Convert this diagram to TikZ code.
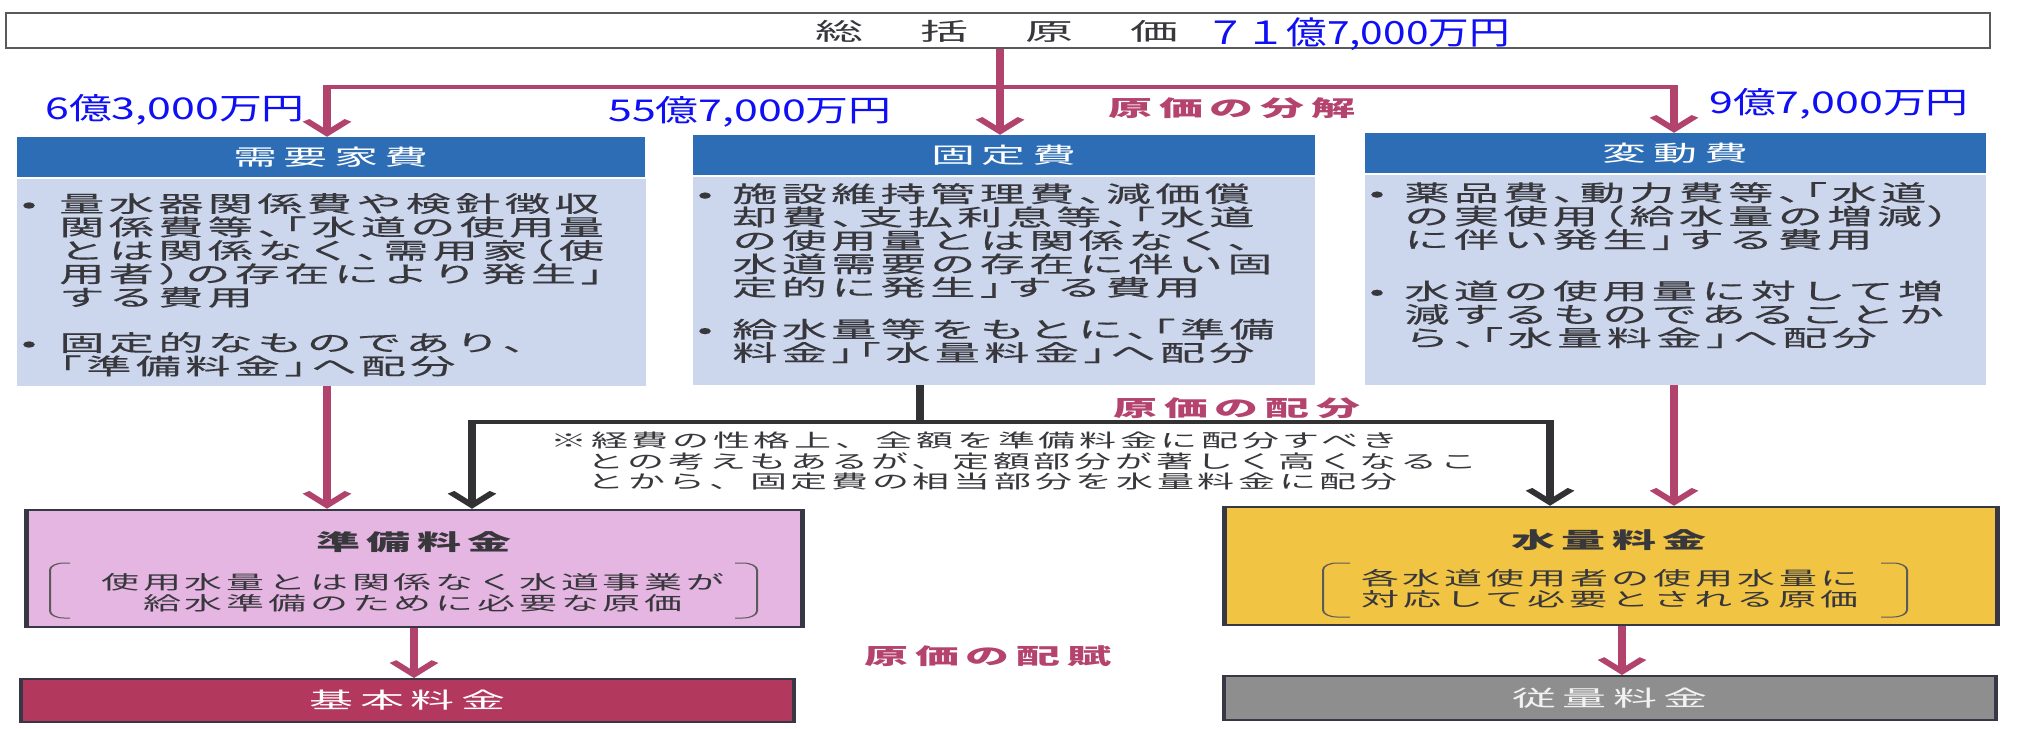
\documentclass[tikz,border=0pt]{standalone}
\usepackage{fontspec}
\usetikzlibrary{arrows.meta}
\newfontfamily\jpB[LetterSpace=10,RawFeature=+halt,FakeBold=0.35]{Noto Sans CJK JP}
\newfontfamily\jpH[LetterSpace=15,RawFeature=+halt]{Noto Sans CJK JP}
\newfontfamily\jpN[LetterSpace=10]{Noto Sans CJK JP}
\newfontfamily\bluefnt[FakeStretch=1.43]{Noto Sans CJK JP}
\newfontfamily\bluefntT[FakeStretch=1.27]{Noto Sans CJK JP}
\definecolor{hdrblue}{RGB}{45,109,181}
\definecolor{bodyblue}{RGB}{204,215,238}
\definecolor{txtdark}{RGB}{55,55,60}
\definecolor{topgray}{RGB}{90,90,90}
\definecolor{pinkline}{RGB}{177,67,108}
\definecolor{pinklbl}{RGB}{180,68,110}
\definecolor{darkline}{RGB}{50,50,52}
\definecolor{junbifill}{RGB}{229,182,226}
\definecolor{suiryofill}{RGB}{242,196,67}
\definecolor{kihonfill}{RGB}{179,56,94}
\definecolor{juryofill}{RGB}{142,142,142}
\definecolor{boxedge}{RGB}{55,55,70}
\definecolor{brkgray}{RGB}{90,90,90}
\definecolor{bluetxt}{RGB}{15,15,245}
\tikzset{
 topbox/.style={draw=topgray, line width=1.2pt, fill=white, inner sep=0},
 hdr/.style={fill=hdrblue, text=white, inner sep=0, minimum height=40pt, font=\jpH\fontsize{22}{24}\selectfont},
 body/.style={fill=bodyblue, inner sep=0},
 btxt/.style={anchor=north west, inner sep=0, align=left, text=txtdark, font=\jpB\fontsize{22.5}{23.4}\selectfont},
 lbl/.style={text=pinklbl, inner sep=0, font=\jpH\bfseries\fontsize{22}{24}\selectfont},
 notetxt/.style={anchor=north west, inner sep=0, align=left, text=txtdark, font=\jpN\fontsize{18.5}{20.3}\selectfont},
 rbox/.style={draw=boxedge, line width=2.5pt, inner sep=0},
 rtitle/.style={inner sep=0, text=txtdark, font=\jpH\bfseries\fontsize{22}{24}\selectfont},
 rtxt/.style={inner sep=0, align=center, text=txtdark, font=\jpN\fontsize{19}{20.5}\selectfont},
 brk/.style={draw=brkgray, line width=1pt, rounded corners=7pt},
 pk/.style={draw=pinkline, line width=4.3pt},
 dk/.style={draw=darkline, line width=4.3pt},
 tipend/.style={-{Straight Barb[length=13pt,width=21pt]}},
 tipboth/.style={{Straight Barb[length=13pt,width=21pt]}-{Straight Barb[length=13pt,width=21pt]}},
 bluelbl/.style={text=bluetxt, anchor=west, inner sep=0},
}
\begin{document}
\begin{tikzpicture}[x=1pt,y=-1pt]
\path[use as bounding box, fill=white] (0,0) rectangle (2028,728);
\begin{scope}[transform canvas={xscale=2}, x=0.5pt, y=-1pt]
 % top box
 \node[topbox, minimum width=992pt, minimum height=35pt] (top) at (998,30.5) {};
 \node[inner sep=0, text=txtdark, font=\jpN\fontsize{24}{26}\selectfont] (ttl) at (997,31.5) {総\hspace{28.5pt}括\hspace{28.5pt}原\hspace{28.5pt}価};
 % headers and bodies
 \node[hdr, minimum width=314pt] (hdrA) at (331,157) {需要家費};
 \node[body, minimum width=314.5pt, minimum height=207pt] (bodyA) at (331.5,282.5) {};
 \node[hdr, minimum width=311pt] (hdrB) at (1004,155) {固定費};
 \node[body, minimum width=311pt, minimum height=208pt] (bodyB) at (1004,281) {};
 \node[hdr, minimum width=310.5pt] (hdrC) at (1675.5,153) {変動費};
 \node[body, minimum width=310.5pt, minimum height=210pt] (bodyC) at (1675.5,280) {};
 \node[btxt] (txtA) at (21,193) {\makebox[19pt][l]{•}量水器関係費や検針徴収\\
  \hspace*{19pt}関係費等、「水道の使用量\\
  \hspace*{19pt}とは関係なく、需用家（使\\
  \hspace*{19pt}用者）の存在により発生」\\
  \hspace*{19pt}する費用\\[22pt]
  \makebox[19pt][l]{•}固定的なものであり、\\
  \hspace*{19pt}「準備料金」へ配分};
 \node[btxt] (txtB) at (697,183) {\makebox[17.5pt][l]{•}施設維持管理費、減価償\\
  \hspace*{17.5pt}却費、支払利息等、「水道\\
  \hspace*{17.5pt}の使用量とは関係なく、\\
  \hspace*{17.5pt}水道需要の存在に伴い固\\
  \hspace*{17.5pt}定的に発生」する費用\\[18.5pt]
  \makebox[17.5pt][l]{•}給水量等をもとに、「準備\\
  \hspace*{17.5pt}料金」「水量料金」へ配分};
 \node[btxt] (txtC) at (1369,182) {\makebox[17.5pt][l]{•}薬品費、動力費等、「水道\\
  \hspace*{17.5pt}の実使用（給水量の増減）\\
  \hspace*{17.5pt}に伴い発生」する費用\\[28pt]
  \makebox[17.5pt][l]{•}水道の使用量に対して増\\
  \hspace*{17.5pt}減するものであることか\\
  \hspace*{17.5pt}ら、「水量料金」へ配分};
 % labels
 \node[lbl] (lblA) at (1232,108) {原価の分解};
 \node[lbl] (lblB) at (1237,408) {原価の配分};
 \node[lbl] (lblC) at (988,656) {原価の配賦};
 % note
 \node[notetxt] (note) at (550,432) {※経費の性格上、全額を準備料金に配分すべき\\
  \phantom{※}との考えもあるが、定額部分が著しく高くなるこ\\
  \phantom{※}とから、固定費の相当部分を水量料金に配分};
 % rate boxes
 \node[rbox, fill=junbifill, minimum width=388pt, minimum height=117pt] (junbi) at (414,568.5) {};
 \node[rtitle] (junbiT) at (414,542) {準備料金};
 \node[rtxt] (junbiX) at (413,592.5) {使用水量とは関係なく水道事業が\\給水準備のために必要な原価};
 \draw[brk] (70,563) -- (50,563) -- (50,618) -- (70,618);
 \draw[brk] (735,563) -- (757,563) -- (757,618) -- (735,618);
 \node[rbox, fill=suiryofill, minimum width=386.5pt, minimum height=118pt] (suiryo) at (1610.5,566) {};
 \node[rtitle] (suiryoT) at (1609,540) {水量料金};
 \node[rtxt] (suiryoX) at (1610,588.5) {各水道使用者の使用水量に\\対応して必要とされる原価};
 \draw[brk] (1350,563) -- (1323,563) -- (1323,617) -- (1350,617);
 \draw[brk] (1881,563) -- (1907,563) -- (1907,617) -- (1881,617);
 \node[draw=boxedge, line width=2pt, fill=kihonfill, minimum width=386.5pt, minimum height=43pt, inner sep=0, text=white, font=\jpH\fontsize{22}{24}\selectfont] (kihon) at (407.5,700.5) {基本料金};
 \node[draw=boxedge, line width=2pt, fill=juryofill, minimum width=386pt, minimum height=44pt, inner sep=0, text=white!95!black, font=\jpH\fontsize{22}{24}\selectfont] (juryo) at (1610,698) {従量料金};
 % connectors
 \coordinate (split) at (1000,87);
 \coordinate (pA) at (327,87);
 \coordinate (pC) at (1674,87);
 \draw[pk] (top.south -| split) -- (split);
 \draw[pk, tipboth] (pA |- hdrA.north) -- (pA) -- (pC) -- (pC |- hdrC.north);
 \draw[pk, tipend] (split) -- (split |- hdrB.north);
 \draw[pk, tipend] (bodyA.south -| pA) -- (pA |- junbi.north);
 \draw[pk, tipend] (bodyC.south -| pC) -- (pC |- suiryo.north);
 \coordinate (mid) at (920,422);
 \coordinate (dl) at (472,422);
 \coordinate (dr) at (1550,422);
 \draw[dk] (bodyB.south -| mid) -- (mid);
 \draw[dk, tipboth] (dl |- junbi.north) -- (dl) -- (dr) -- (dr |- suiryo.north);
 \coordinate (ca) at (1622,650);
 \draw[pk, tipend] (junbi.south) -- (junbi.south |- kihon.north);
 \draw[pk, tipend] (suiryo.south -| ca) -- (ca |- juryo.north);
\end{scope}
% blue amounts
\node[bluelbl, font=\bluefntT\fontsize{32}{32}\selectfont] (vTot) at (1205,34) {７１億7,000万円};
\node[bluelbl, font=\bluefnt\fontsize{30}{30}\selectfont] (vA) at (45,110) {6億3,000万円};
\node[bluelbl, font=\bluefnt\fontsize{30}{30}\selectfont] (vB) at (608,112) {55億7,000万円};
\node[bluelbl, font=\bluefnt\fontsize{30}{30}\selectfont] (vC) at (1709,104) {9億7,000万円};
\end{tikzpicture}
\end{document}
